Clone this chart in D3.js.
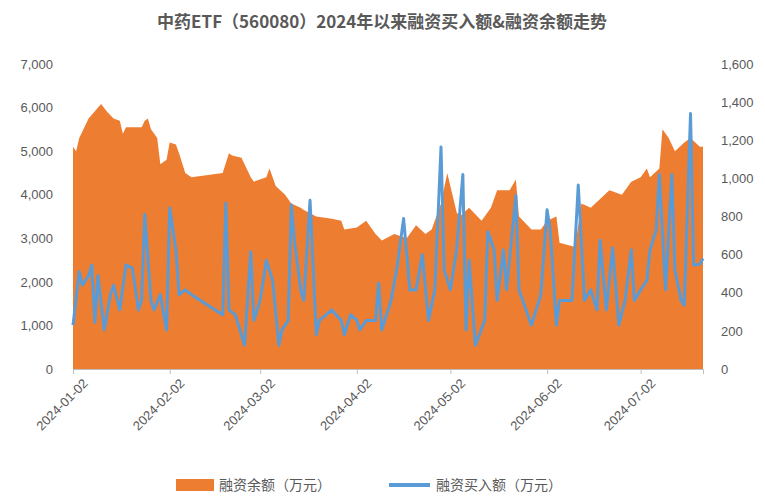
<!DOCTYPE html>
<html><head><meta charset="utf-8">
<script src="https://cdn.jsdelivr.net/npm/d3@7/dist/d3.min.js"></script>
<style>body{margin:0;background:#fff;font-family:"Noto Sans CJK SC","Noto Sans",sans-serif}</style>
</head><body><svg id="c" width="765" height="499"></svg>
<script>
const balanceDates=["2024-01-02","2024-01-03","2024-01-04","2024-01-07","2024-01-11","2024-01-13","2024-01-15","2024-01-17","2024-01-18","2024-01-19","2024-01-24","2024-01-25","2024-01-26","2024-01-27","2024-01-29","2024-01-30","2024-02-01","2024-02-02","2024-02-04","2024-02-05","2024-02-07","2024-02-09","2024-02-19","2024-02-21","2024-02-22","2024-02-25","2024-02-28","2024-02-29","2024-03-04","2024-03-05","2024-03-07","2024-03-10","2024-03-12","2024-03-15","2024-03-16","2024-03-20","2024-03-25","2024-03-28","2024-03-29","2024-04-02","2024-04-05","2024-04-08","2024-04-10","2024-04-14","2024-04-18","2024-04-21","2024-04-24","2024-04-26","2024-04-29","2024-05-01","2024-05-04","2024-05-05","2024-05-08","2024-05-12","2024-05-15","2024-05-17","2024-05-21","2024-05-23","2024-05-24","2024-05-28","2024-05-31","2024-06-02","2024-06-05","2024-06-06","2024-06-11","2024-06-13","2024-06-16","2024-06-19","2024-06-22","2024-06-26","2024-06-29","2024-07-02","2024-07-04","2024-07-05","2024-07-08","2024-07-09","2024-07-11","2024-07-13","2024-07-16","2024-07-18","2024-07-21","2024-07-22"];
const balanceValues=[5100,5000,5300,5750,6080,5900,5750,5700,5400,5550,5550,5700,5750,5500,5300,4700,4800,5200,5150,4950,4500,4400,4500,4950,4900,4850,4400,4300,4400,4600,4200,4000,3800,3700,3650,3500,3450,3400,3200,3250,3400,3100,2950,3100,3000,3300,3100,3200,3800,4500,3600,3500,3700,3400,3700,4100,4100,4350,3500,3200,3200,3400,3500,2900,2800,3800,3700,3900,4100,4000,4300,4400,4600,4400,4600,5500,5300,5000,5200,5300,5100,5100];
const buyDates=["2024-01-02","2024-01-04","2024-01-05","2024-01-07","2024-01-08","2024-01-09","2024-01-10","2024-01-12","2024-01-14","2024-01-15","2024-01-17","2024-01-19","2024-01-21","2024-01-23","2024-01-24","2024-01-25","2024-01-27","2024-01-28","2024-01-30","2024-02-01","2024-02-02","2024-02-04","2024-02-05","2024-02-07","2024-02-09","2024-02-19","2024-02-20","2024-02-21","2024-02-23","2024-02-25","2024-02-26","2024-02-28","2024-02-29","2024-03-02","2024-03-04","2024-03-06","2024-03-08","2024-03-09","2024-03-11","2024-03-12","2024-03-13","2024-03-15","2024-03-16","2024-03-18","2024-03-20","2024-03-21","2024-03-25","2024-03-28","2024-03-29","2024-03-31","2024-04-02","2024-04-03","2024-04-05","2024-04-08","2024-04-09","2024-04-10","2024-04-13","2024-04-15","2024-04-17","2024-04-19","2024-04-21","2024-04-23","2024-04-25","2024-04-27","2024-04-29","2024-04-30","2024-05-02","2024-05-04","2024-05-06","2024-05-07","2024-05-08","2024-05-10","2024-05-13","2024-05-14","2024-05-16","2024-05-17","2024-05-19","2024-05-20","2024-05-23","2024-05-24","2024-05-28","2024-05-31","2024-06-02","2024-06-03","2024-06-05","2024-06-06","2024-06-10","2024-06-12","2024-06-14","2024-06-16","2024-06-18","2024-06-19","2024-06-21","2024-06-23","2024-06-25","2024-06-27","2024-06-29","2024-06-30","2024-07-02","2024-07-04","2024-07-05","2024-07-07","2024-07-08","2024-07-10","2024-07-12","2024-07-13","2024-07-15","2024-07-16","2024-07-18","2024-07-19","2024-07-21","2024-07-22"];
const buyValues=[230,510,440,490,545,245,490,205,390,440,310,545,530,310,360,810,360,310,390,205,845,625,390,415,390,285,870,310,285,180,125,615,255,360,570,465,125,205,255,860,675,415,360,885,180,255,310,255,180,285,255,205,255,255,450,205,360,545,790,415,415,600,255,415,1165,520,415,625,1020,205,570,125,255,720,625,360,625,415,910,415,230,390,835,730,230,360,360,965,360,415,310,675,310,635,230,360,625,360,415,465,625,730,1020,415,1020,520,360,335,1340,545,550,580];
const xTicks=["2024-01-02","2024-02-02","2024-03-02","2024-04-02","2024-05-02","2024-06-02","2024-07-02"];
const leftTicks=[0,1000,2000,3000,4000,5000,6000,7000];
const rightTicks=[0,200,400,600,800,1000,1200,1400,1600];

const p=d3.timeParse("%Y-%m-%d");
const svg=d3.select("#c");
const L=73,R=703,T=64,B=369;
const x=d3.scaleTime().domain([p("2024-01-02"),p("2024-07-22")]).range([L,R]);
const yl=d3.scaleLinear().domain([0,7000]).range([B,T]);
const yr=d3.scaleLinear().domain([0,1600]).range([B,T]);
const bal=balanceDates.map((d,i)=>({d:p(d),v:balanceValues[i]}));
const buy=buyDates.map((d,i)=>({d:p(d),v:buyValues[i]}));

svg.append("text").attr("x",382).attr("y",28).attr("text-anchor","middle").attr("font-size",17).attr("font-weight","bold").attr("fill","#595959").text("中药ETF（560080）2024年以来融资买入额&融资余额走势");

svg.append("path").datum(bal).attr("fill","#ED7D31").attr("d",d3.area().x(d=>x(d.d)).y0(B).y1(d=>yl(d.v)));
svg.append("path").datum(buy).attr("fill","none").attr("stroke","#5B9BD5").attr("stroke-width",3).attr("stroke-linejoin","round").attr("d",d3.line().x(d=>x(d.d)).y(d=>yr(d.v)));

const gx=svg.append("g").attr("transform",`translate(0,${B})`).call(d3.axisBottom(x).tickValues(xTicks.map(p)).tickFormat(d3.timeFormat("%Y-%m-%d")).tickSize(5));
gx.select(".domain").attr("stroke","#bfbfbf");
gx.selectAll(".tick line").attr("stroke","#bfbfbf");
gx.selectAll("text").attr("font-size",13).attr("fill","#595959").attr("text-anchor","end").attr("transform","translate(4,4) rotate(-45)").attr("dx",0).attr("dy","0.6em");

const gl=svg.append("g").attr("transform",`translate(${L},0)`).call(d3.axisLeft(yl).tickValues(leftTicks).tickSize(0).tickPadding(20));
gl.select(".domain").remove();
gl.selectAll("text").attr("font-size",13).attr("fill","#595959");
const gr=svg.append("g").attr("transform",`translate(${R},0)`).call(d3.axisRight(yr).tickValues(rightTicks).tickSize(0).tickPadding(18));
gr.select(".domain").remove();
gr.selectAll("text").attr("font-size",13).attr("fill","#595959");

const lg=svg.append("g");
lg.append("rect").attr("x",176).attr("y",479).attr("width",38).attr("height",12).attr("fill","#ED7D31");
lg.append("text").attr("x",219).attr("y",490).attr("font-size",14).attr("fill","#595959").text("融资余额（万元）");
lg.append("line").attr("x1",389).attr("x2",430).attr("y1",485).attr("y2",485).attr("stroke","#5B9BD5").attr("stroke-width",4);
lg.append("text").attr("x",436).attr("y",490).attr("font-size",14).attr("fill","#595959").text("融资买入额（万元）");
</script></body></html>
